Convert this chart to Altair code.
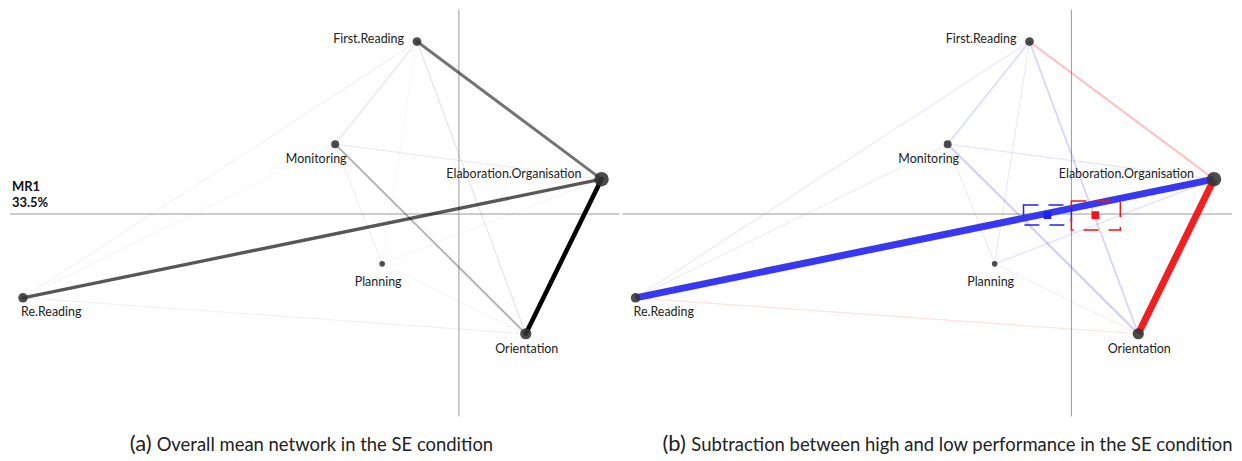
import altair as alt
import pandas as pd

# ---------------- data ----------------
codes = ["First.Reading", "Monitoring", "Elaboration.Organisation",
         "Planning", "Re.Reading", "Orientation"]
code_x = [-0.28, -0.827, 0.953, -0.513, -2.913, 0.447]
code_y = [1.153, 0.467, 0.233, -0.333, -0.56, -0.80]
code_freq = [0.33, 0.26, 1.0, 0.10, 0.40, 0.58]

edge_from = ["Elaboration.Organisation", "Re.Reading", "First.Reading", "Monitoring",
             "First.Reading", "First.Reading", "First.Reading", "Monitoring",
             "Monitoring", "Re.Reading", "Re.Reading", "Planning", "Planning",
             "First.Reading"]
edge_to = ["Orientation", "Elaboration.Organisation", "Elaboration.Organisation", "Orientation",
           "Orientation", "Monitoring", "Re.Reading", "Elaboration.Organisation",
           "Planning", "Monitoring", "Orientation", "Elaboration.Organisation", "Orientation",
           "Planning"]
# overall mean network weights (panel a)
weight_mean = [1.0, 0.66, 0.55, 0.30, 0.10, 0.10, 0.06, 0.08, 0.07, 0.05, 0.06, 0.05, 0.05, 0.04]
# high - low subtraction weights (panel b): positive = red, negative = blue
weight_diff = [1.0, -1.0, 0.22, -0.20, -0.16, -0.13, -0.05, -0.07, -0.05, -0.04, 0.07, -0.09, 0.04, -0.05]

groups = ["Low", "High"]
centroid_x = [-0.16, 0.16]
centroid_y = [-0.007, -0.007]
ci_x_lo = [-0.32, 0.0]
ci_x_hi = [0.0, 0.327]
ci_y_lo = [-0.073, -0.107]
ci_y_hi = [0.06, 0.087]

axis_title = ["MR1", "33.5%"]
caption_tag = ["(a)", "(b)"]
caption_text = ["Overall mean network in the SE condition",
                "Subtraction between high and low performance in the SE condition"]

# ---------------- tables ----------------
nodes = pd.DataFrame({"code": codes, "x": code_x, "y": code_y, "freq": code_freq})
pos = {c: (x, y) for c, x, y in zip(codes, code_x, code_y)}
edges = pd.DataFrame({
    "src": edge_from, "dst": edge_to,
    "x1": [pos[a][0] for a in edge_from], "y1": [pos[a][1] for a in edge_from],
    "x2": [pos[b][0] for b in edge_to], "y2": [pos[b][1] for b in edge_to],
    "wm": weight_mean, "wd": weight_diff,
})
edges["aw"] = edges["wd"].abs()
edges["sign"] = ["pos" if v > 0 else "neg" for v in edges["wd"]]
edges_a = edges.sort_values("wm")
edges_b = edges.sort_values("aw")
cent = pd.DataFrame({"group": groups, "x": centroid_x, "y": centroid_y,
                     "xl": ci_x_lo, "xh": ci_x_hi, "yl": ci_y_lo, "yh": ci_y_hi})

X_DOM = [-3.0133, 1.0733]
Y_DOM = [-1.6, 1.3667]
xs = alt.Scale(domain=X_DOM, nice=False, zero=False)
ys = alt.Scale(domain=Y_DOM, nice=False, zero=False)
W, H = 613, 445
FONT = "Lato"

axes_df = pd.DataFrame({"hx1": [X_DOM[0] + 0.013], "hx2": [X_DOM[1]], "zero": [0.0],
                        "vy1": [-1.353], "vy2": [Y_DOM[1]]})

def axes_layer():
    h = alt.Chart(axes_df).mark_rule(color="#9a9a9a", strokeWidth=1).encode(
        x=alt.X("hx1:Q", scale=xs, axis=None), x2="hx2:Q",
        y=alt.Y("zero:Q", scale=ys, axis=None))
    v = alt.Chart(axes_df).mark_rule(color="#9a9a9a", strokeWidth=1).encode(
        x=alt.X("zero:Q", scale=xs, axis=None),
        y=alt.Y("vy1:Q", scale=ys, axis=None), y2="vy2:Q")
    return [h, v]

def nodes_layer():
    dots = alt.Chart(nodes).mark_circle(color="#333333", opacity=0.88).encode(
        x=alt.X("x:Q", scale=xs, axis=None), y=alt.Y("y:Q", scale=ys, axis=None),
        size=alt.Size("freq:Q", scale=alt.Scale(domain=[0, 1], range=[12, 210]), legend=None))
    label_style = {
        "First.Reading": dict(align="right", dx=-13, dy=-3),
        "Monitoring": dict(align="center", dx=-19, dy=15),
        "Elaboration.Organisation": dict(align="right", dx=-20, dy=-5),
        "Planning": dict(align="center", dx=-4, dy=18),
        "Re.Reading": dict(align="left", dx=-2, dy=14),
        "Orientation": dict(align="center", dx=1, dy=15),
    }
    labs = []
    for c in codes:
        labs.append(alt.Chart(nodes).transform_filter(alt.datum.code == c).mark_text(
            font=FONT, fontSize=12.5, color="#222222", baseline="middle", **label_style[c]
        ).encode(x=alt.X("x:Q", scale=xs, axis=None), y=alt.Y("y:Q", scale=ys, axis=None),
                 text="code:N"))
    return [dots] + labs

def caption_layer(i, tag_x, text_x):
    df = pd.DataFrame({"tag": [caption_tag[i]], "txt": [caption_text[i]]})
    t1 = alt.Chart(df).mark_text(font=FONT, fontSize=22, align="left", baseline="alphabetic",
                                 color="#222222").encode(
        x=alt.value(tag_x), y=alt.value(443), text="tag:N")
    t2 = alt.Chart(df).mark_text(font=FONT, fontSize=18.5, align="left", baseline="alphabetic",
                                 color="#222222").encode(
        x=alt.value(text_x), y=alt.value(443), text="txt:N")
    return [t1, t2]

# ---------------- panel a ----------------
edges_a_layer = alt.Chart(edges_a).mark_rule(color="black", strokeCap="round").encode(
    x=alt.X("x1:Q", scale=xs, axis=None), y=alt.Y("y1:Q", scale=ys, axis=None),
    x2="x2:Q", y2="y2:Q",
    size=alt.Size("wm:Q", scale=alt.Scale(domain=[0, 1], range=[0.8, 4.6]), legend=None),
    opacity=alt.Opacity("wm:Q", scale=alt.Scale(domain=[0, 1], range=[0.0, 1.0]), legend=None),
)
mr_df = pd.DataFrame({"a": [axis_title[0]], "b": [axis_title[1]]})
mr1 = alt.Chart(mr_df).mark_text(font=FONT, fontSize=13, fontWeight="bold", align="left",
                                 color="#111111").encode(x=alt.value(4), y=alt.value(178), text="a:N")
mr2 = alt.Chart(mr_df).mark_text(font=FONT, fontSize=13, fontWeight="bold", align="left",
                                 color="#111111").encode(x=alt.value(4), y=alt.value(194), text="b:N")

panel_a = alt.layer(*axes_layer(), edges_a_layer, *nodes_layer(), mr1, mr2,
                    *caption_layer(0, 122, 149)).properties(width=W, height=H).resolve_scale(
    size="independent", opacity="independent")

# ---------------- panel b ----------------
edges_b_layer = alt.Chart(edges_b).mark_rule(strokeCap="butt").encode(
    x=alt.X("x1:Q", scale=xs, axis=None), y=alt.Y("y1:Q", scale=ys, axis=None),
    x2="x2:Q", y2="y2:Q",
    color=alt.Color("sign:N", scale=alt.Scale(domain=["pos", "neg"], range=["#f01414", "#2d2df2"]),
                    legend=None),
    size=alt.Size("aw:Q", scale=alt.Scale(domain=[0, 1], range=[0.8, 7.0]), legend=None),
    opacity=alt.Opacity("aw:Q", scale=alt.Scale(domain=[0, 1], range=[0.06, 0.95]), legend=None),
)
grp_scale = alt.Scale(domain=["High", "Low"], range=["#f01414", "#2020f0"])
ci_box = alt.Chart(cent).mark_rect(filled=False, strokeDash=[15, 10], strokeWidth=1.5).encode(
    x=alt.X("xl:Q", scale=xs, axis=None), x2="xh:Q",
    y=alt.Y("yl:Q", scale=ys, axis=None), y2="yh:Q",
    stroke=alt.Stroke("group:N", scale=grp_scale, legend=None))
cent_pts = alt.Chart(cent).mark_square(size=60, opacity=1).encode(
    x=alt.X("x:Q", scale=xs, axis=None), y=alt.Y("y:Q", scale=ys, axis=None),
    color=alt.Color("group:N", scale=grp_scale, legend=None))

panel_b = alt.layer(*axes_layer(), edges_b_layer, ci_box, cent_pts, *nodes_layer(),
                    *caption_layer(1, 42, 71)).properties(width=W, height=H).resolve_scale(
    color="independent", size="independent", opacity="independent")

chart = alt.hconcat(panel_a, panel_b, spacing=0).configure_view(stroke=None).properties(
    padding=0, background="white")

chart.save("out.html", embed_options={"renderer": "svg", "actions": False})
